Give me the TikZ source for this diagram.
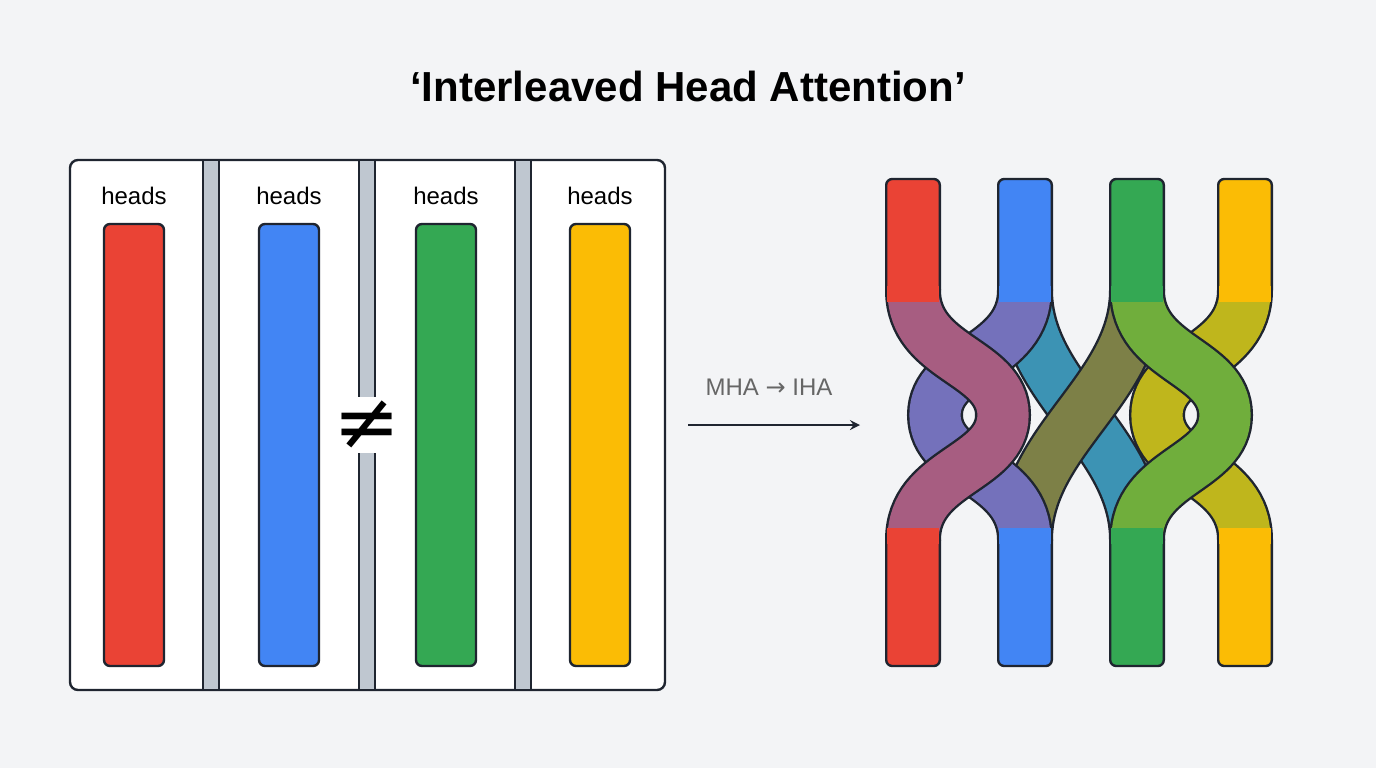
\documentclass[tikz,border=0pt]{standalone}
\usepackage{fontspec}
\setmainfont{Liberation Sans}
\newfontfamily\symfont{DejaVu Sans}
\definecolor{hred}{HTML}{EA4335}
\definecolor{hblue}{HTML}{4285F4}
\definecolor{hgreen}{HTML}{34A853}
\definecolor{hyellow}{HTML}{FBBC05}
\definecolor{sepgray}{HTML}{BFC7D0}
\definecolor{bgcol}{HTML}{F3F4F6}
\definecolor{inkcol}{HTML}{1F2530}
\tikzset{
  headbar/.style={draw=inkcol,line width=1.2pt,rounded corners=3pt,fill=#1},
  sepbar/.style={draw=inkcol,line width=0.9pt,fill=sepgray},
  headlbl/.style={font=\fontsize{12}{14}\selectfont},
  strand/.style={line width=28pt,draw=inkcol,line cap=butt},
  strandin/.style={line width=25.6pt,draw=#1,line cap=butt},
  endcap/.style={draw=inkcol,line width=1.2pt,rounded corners=3pt,fill=#1}
}
\begin{document}
\begin{tikzpicture}[x=0.5pt,y=-0.5pt]
  \fill[bgcol] (0,0) rectangle (1376,768);
  \useasboundingbox (0,0) rectangle (1376,768);
  % title
  \node (title) at (688,86) {\bfseries\fontsize{21}{25}\selectfont `Interleaved Head Attention'};
  % left panel
  \draw[fill=white,draw=inkcol,line width=1.2pt,rounded corners=4pt] (70,160) rectangle (665,690);
  \foreach \x in {203,359,515}
    \draw[sepbar] (\x,160) rectangle (\x+16,690);
  \foreach \cx/\col/\nm in {134/hred/r,289/hblue/b,446/hgreen/g,600/hyellow/y} {
    \node[headlbl] (lbl\nm) at (\cx,196) {heads};
    \draw[headbar=\col] (\cx-30,224) rectangle (\cx+30,666);
  }
  \node[fill=white,inner sep=2pt,font=\symfont\fontsize{40}{40}\selectfont] (neq) at (367,425) {≠};
  % arrow
  \node[text=gray!80!black,font=\fontsize{12}{14}\selectfont] (mha) at (769,387) {MHA {\symfont→} IHA};
  \coordinate (arrs) at (688,425);
  \coordinate (arre) at (860,425);
  \draw[->,>=stealth,line width=1.2pt,draw=inkcol] (arrs) -- (arre);
  % braid: cross links (under)
  \draw[strand] (1025,290) .. controls (1025,390) and (1137,440) .. (1137,540);
  \draw[strandin=hblue!60!hgreen] (1025,290) .. controls (1025,390) and (1137,440) .. (1137,540);
  \draw[strand] (1137,290) .. controls (1137,390) and (1025,440) .. (1025,540);
  \draw[strandin=hgreen!60!hred] (1137,290) .. controls (1137,390) and (1025,440) .. (1025,540);
  % main strands
  \foreach \xa/\xm/\col in {1025/935/hblue!70!hred,913/1003/hred!60!hblue,1245/1157/hyellow!70!hgreen,1137/1225/hgreen!70!hyellow} {
    \draw[strand] (\xa,290) .. controls (\xa,360) and (\xm,360) .. (\xm,415) .. controls (\xm,470) and (\xa,470) .. (\xa,540);
    \draw[strandin=\col] (\xa,290) .. controls (\xa,360) and (\xm,360) .. (\xm,415) .. controls (\xm,470) and (\xa,470) .. (\xa,540);
  }
  % straight ends
  \foreach \cx/\col in {913/hred,1025/hblue,1137/hgreen,1245/hyellow} {
    \draw[endcap=\col] (\cx-26.8,179) rectangle (\cx+26.8,296);
    \draw[endcap=\col] (\cx-26.8,534) rectangle (\cx+26.8,666);
    \fill[\col] (\cx-25.6,286) rectangle (\cx+25.6,302);
    \fill[\col] (\cx-25.6,528) rectangle (\cx+25.6,544);
  }
\end{tikzpicture}
\end{document}
